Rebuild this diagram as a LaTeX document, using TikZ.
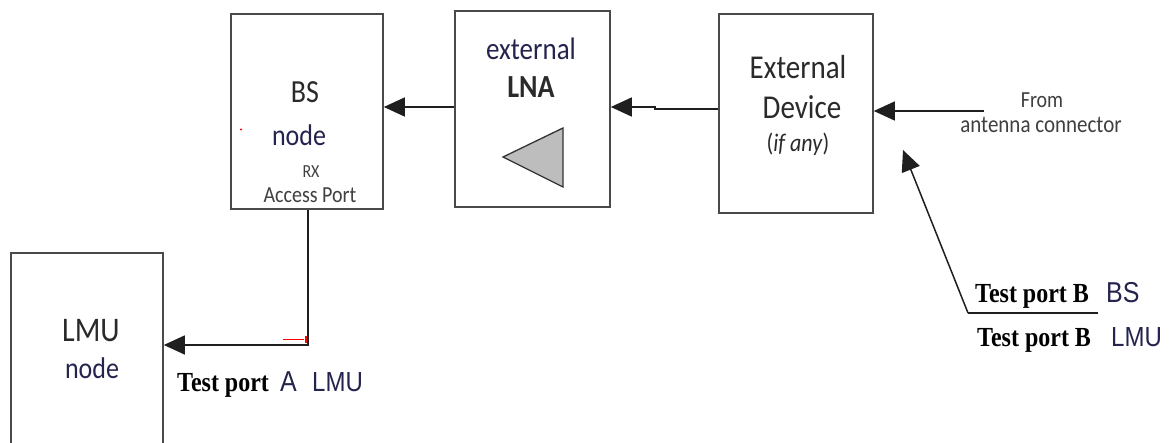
\documentclass[tikz,border=0pt]{standalone}
\usepackage{fontspec}
\usepackage{graphicx}
\setmainfont{Carlito}
\newfontfamily\tpf{Liberation Serif}
\newfontfamily\arf{Liberation Sans}
\usetikzlibrary{arrows.meta}
\definecolor{boxline}{HTML}{4A4A4A}
\definecolor{navy}{HTML}{24244E}
\definecolor{dgray}{HTML}{2A2A2A}
\definecolor{mgray}{HTML}{404040}
\definecolor{trifill}{HTML}{BDBDBD}
\newcommand\fs[1]{\fontsize{#1}{#1}\selectfont}
\newcommand\vs[1]{\scalebox{1}[1.15]{#1}}
\begin{document}
\begin{tikzpicture}[x=1pt,y=-1pt,
  box/.style={draw=boxline,line width=1.6pt,inner sep=0pt,fill=white},
  arr/.style={line width=1.5pt,draw=black!88,-{Triangle[length=21pt,width=19pt]}},
  conn/.style={line width=1.5pt,draw=black!88},
  txt/.style={inner sep=0pt,anchor=base},
  tpw/.style={inner sep=0pt,anchor=base west,font=\tpf\bfseries\fs{24}},
  lbw/.style={inner sep=0pt,anchor=base west,font=\arf\fs{24},text=navy}]
\useasboundingbox (0,0) rectangle (1174,443);
\clip (0,0) rectangle (1174,443);
\fill[white] (0,0) rectangle (1174,443);

% boxes
\node[box,minimum width=152pt,minimum height=195pt] (bs) at (307,111.5) {};
\node[box,minimum width=155pt,minimum height=196pt] (lna) at (532.5,109) {};
\node[box,minimum width=154pt,minimum height=199pt] (ext) at (796,113.5) {};
\node[box,minimum width=152pt,minimum height=210pt] (lmu) at (87,358) {};

% BS box texts
\node[txt,text=dgray,font=\fs{28}] (bsT) at (305,103) {\vs{BS}};
\node[txt,text=navy,font=\fs{26}] (bsN) at (299,146) {\vs{node}};
\node[txt,text=mgray,font=\fs{16}] (bsR) at (311,178) {\vs{RX}};
\node[txt,text=mgray,font=\fs{20}] (bsA) at (310,203) {\vs{Access Port}};

% LNA box texts and symbol
\node[txt,text=navy,font=\fs{27}] (lnaT) at (531,60) {\vs{external}};
\node[txt,text=dgray,font=\bfseries\fs{28}] (lnaL) at (531,98) {\vs{LNA}};
\draw[draw=black!80,line width=1.3pt,fill=trifill,line join=miter] (503,157) -- (563,128) -- (563,187) -- cycle;

% External device texts
\node[txt,text=dgray,font=\fs{29}] (extT) at (798,79) {\vs{External}};
\node[txt,text=dgray,font=\fs{29}] (extD) at (802,119) {\vs{Device}};
\node[txt,text=dgray,font=\fs{22}] (extI) at (798,152) {\vs{(\textit{if any})}};

% LMU box texts
\node[txt,text=dgray,font=\fs{30}] (lmuT) at (91,341) {\vs{LMU}};
\node[txt,text=navy,font=\fs{26}] (lmuN) at (92,378) {\vs{node}};

% antenna label
\node[txt,text=mgray,font=\fs{20}] (from) at (1042,108) {\vs{From}};
\node[txt,text=mgray,font=\fs{21}] (antc) at (1041,133) {\vs{antenna connector}};

% test port labels
\node[tpw] (tpA) at (177,391) {\vs{Test port}};
\node[lbw,font=\arf\fs{25}] (tpAa) at (280,391) {\vs{A}};
\node[lbw] (tpAl) at (312,391) {\vs{LMU}};
\node[tpw] (tpB1) at (975,302) {\vs{Test port B}};
\node[lbw,font=\arf\fs{25}] (tpB1l) at (1106,302) {\vs{BS}};
\node[tpw] (tpB2) at (977,346) {\vs{Test port B}};
\node[lbw] (tpB2l) at (1111,346) {\vs{LMU}};

% connectors
\draw[arr] (lna.west |- 0,107) -- (bs.east |- 0,107);
\draw[arr] (ext.west |- 0,109) -- (655,109) -- (655,107) -- (lna.east |- 0,107);
\coordinate (ant) at (984,111);
\draw[arr] (ant) -- (ext.east |- ant);
\draw[conn] (bs.south -| 308,0) -- (308,345.75);
\draw[arr] (308,345) -- (lmu.east |- 0,345);
\coordinate (tpBc) at (968,313);
\coordinate (tpBe) at (1098,313);
\coordinate (tipB) at (903,150);
\draw[arr] (tpBc) -- (tipB);
\draw[conn,line width=1.3pt] (tpBc) -- (tpBe);

% small red marks
\draw[red,line width=1.6pt] (283,339.5) -- (304,339.5);
\draw[red,line width=2.5pt] (306,336) -- (306,343);
\fill[red] (241,129.5) circle (1.1pt);
\end{tikzpicture}
\end{document}
